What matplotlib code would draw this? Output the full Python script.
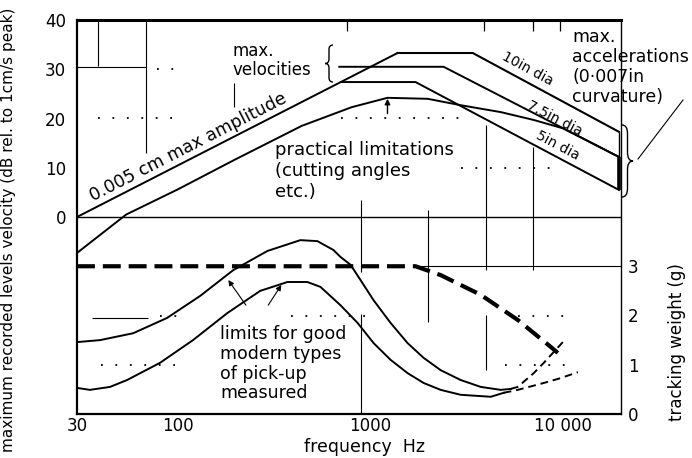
import matplotlib.pyplot as plt
from matplotlib.path import Path
from matplotlib.patches import PathPatch

plt.rcParams['font.family'] = ['DejaVu Sans']

# ---- values ----
# upper half: velocity level in dB (rel. 1 cm/s peak) against frequency in Hz
amp_f = [30, 1384]
amp_db = [0.0, 33.3]

v10_f = [1384, 3400, 19500]
v10_db = [33.3, 33.3, 17.3]
v75_f = [690, 2400, 19500]
v75_db = [30.5, 30.5, 12.2]
v5_f = [703, 1716, 19500]
v5_db = [27.4, 27.4, 5.5]

practical_f = [30, 54, 100, 197, 440, 800, 1227, 1983, 2943, 4750, 7050, 10000, 19500]
practical_db = [-7.3, 0.5, 5.6, 11.6, 18.5, 22.3, 24.2, 24.0, 22.7, 21.3, 19.7, 18.0, 12.2]

# lower half: tracking weight in g
track_f = [30, 1716, 2317, 3740, 5820, 8650, 9400]
track_g = [3.0, 3.0, 2.82, 2.42, 1.91, 1.36, 1.24]

pickup_hi_f = [30, 39.5, 58.7, 88, 131, 194, 292, 433, 531, 643, 699, 789, 889,
               1039, 1273, 1560, 1890, 2317, 2943, 3740, 4750, 5360]
pickup_hi_g = [1.46, 1.50, 1.64, 1.95, 2.40, 2.92, 3.31, 3.53, 3.51, 3.33, 3.19, 3.03, 2.72,
               2.31, 1.85, 1.44, 1.14, 0.89, 0.69, 0.55, 0.49, 0.51]
pickup_hi_ext_f = [5360, 5820, 7050, 7950, 8860, 9980]
pickup_hi_ext_g = [0.51, 0.55, 0.83, 1.04, 1.24, 1.46]

pickup_lo_f = [30, 35, 44.5, 54.6, 81, 120, 181, 268, 371, 471, 551, 699, 858,
               1039, 1273, 1560, 1890, 2317, 2943, 4220, 4920]
pickup_lo_g = [0.53, 0.49, 0.55, 0.69, 1.04, 1.50, 2.05, 2.50, 2.68, 2.68, 2.58, 2.21, 1.85,
               1.44, 1.10, 0.83, 0.63, 0.49, 0.39, 0.35, 0.43]
pickup_lo_ext_f = [4920, 5820, 7950, 9750, 11940]
pickup_lo_ext_g = [0.43, 0.49, 0.63, 0.73, 0.85]

x_ticks = [30, 100, 1000, 10000]
x_labels = ['30', '100', '1000', '10 000']
db_ticks = [0, 10, 20, 30, 40]
g_ticks = [0, 1, 2, 3]


def brace(ax, x, y0, y1, w, lw=1.0):
    # curly brace in axes fraction, tip points to x + w
    ym = (y0 + y1) / 2
    q = abs(y1 - y0) * 0.12
    xm = x + w / 2
    verts = [(x, y1), (xm, y1), (xm, y1 - q),
             (xm, ym + q), (xm, ym), (x + w, ym),
             (xm, ym), (xm, ym - q),
             (xm, y0 + q), (xm, y0), (x, y0)]
    codes = [Path.MOVETO, Path.CURVE3, Path.CURVE3,
             Path.LINETO, Path.CURVE3, Path.CURVE3,
             Path.CURVE3, Path.CURVE3,
             Path.LINETO, Path.CURVE3, Path.CURVE3]
    ax.add_patch(PathPatch(Path(verts, codes), transform=ax.transAxes,
                           fill=False, lw=lw, color='k', clip_on=False))


fig = plt.figure(figsize=(6.92, 4.58), dpi=100)
fig.set_facecolor('white')
ax = fig.add_axes([77 / 692, 44 / 458, 544 / 692, 394 / 458])
ax.set_xscale('log')
ax.set_xlim(30, 20000)
ax.set_ylim(-40, 40)
ax.minorticks_off()

ax.set_xticks(x_ticks)
ax.set_xticklabels(x_labels)
ax.set_yticks(db_ticks)
ax.tick_params(axis='both', length=0, labelsize=12)
ax.tick_params(axis='x', pad=2)
ax.tick_params(axis='y', pad=8)

ax.spines['top'].set_linewidth(2.2)
ax.spines['left'].set_linewidth(1.6)
ax.spines['bottom'].set_linewidth(1.6)
ax.spines['right'].set_linewidth(1.0)

ax2 = ax.twinx()
ax2.set_ylim(0, 8)
ax2.set_yticks(g_ticks)
ax2.tick_params(axis='y', length=0, labelsize=12, pad=5)
for s in ax2.spines.values():
    s.set_visible(False)

# 0 dB divider
ax.axhline(0, color='k', lw=1.0)

# grid remnants of the original drawing
ax.vlines(38.5, 30.7, 40, color='k', lw=0.8)
ax.vlines(68.6, 13, 40, color='k', lw=0.8)
ax.hlines(30.5, 30, 68.6, color='k', lw=0.8)
ax.vlines(196, 22.3, 27.2, color='k', lw=0.8)
ax.vlines(889, -11.2, 3.5, color='k', lw=0.8)
ax.vlines(889, -40, -19.7, color='k', lw=0.8)
ax.vlines(2000, -21.3, 1.4, color='k', lw=0.8)
ax.vlines(4000, -10.8, 18.7, color='k', lw=0.8)
ax.vlines(4000, -31.1, -19.9, color='k', lw=0.8)
ax.vlines(7000, -10.8, 14.2, color='k', lw=0.8)
ax.hlines(-10, 1820, 20000, color='k', lw=0.8)
ax.hlines(-20.5, 36, 70, color='k', lw=0.8)
ax.vlines([760, 3900, 7000, 9700], 37.8, 40, color='k', lw=0.9)

dots = (0, (1, 7))
ax.hlines(30, 78, 97, color='k', lw=1.3, linestyles=[dots])
ax.hlines(20, 38.5, 97, color='k', lw=1.3, linestyles=[dots])
ax.hlines(20, 700, 3000, color='k', lw=1.3, linestyles=[dots])
ax.hlines(10, 2943, 9000, color='k', lw=1.3, linestyles=[dots])
ax.hlines(-20, 81, 99, color='k', lw=1.3, linestyles=[dots])
ax.hlines(-20, 385, 966, color='k', lw=1.3, linestyles=[dots])
ax.hlines(-20, 5820, 10200, color='k', lw=1.3, linestyles=[dots])
ax.hlines(-30, 40, 99, color='k', lw=1.3, linestyles=[dots])
ax.hlines(-30, 5000, 10200, color='k', lw=1.3, linestyles=[dots])

# upper half curves
ax.plot(amp_f, amp_db, color='k', lw=1.4)
ax.plot(v10_f, v10_db, color='k', lw=1.5)
ax.plot(v75_f, v75_db, color='k', lw=1.4)
ax.plot(v5_f, v5_db, color='k', lw=1.4)
ax.plot(practical_f, practical_db, color='k', lw=1.4)
ax.vlines(19500, v5_db[-1], v10_db[-1], color='k', lw=1.0)
ax.vlines(19500, v5_db[-1], v75_db[-1], color='k', lw=2.6)

# lower half curves
ax2.plot(track_f, track_g, color='k', lw=3, dashes=(4.3, 1.9))
ax2.plot(pickup_hi_f, pickup_hi_g, color='k', lw=1.4)
ax2.plot(pickup_lo_f, pickup_lo_g, color='k', lw=1.4)
ax2.plot(pickup_hi_ext_f, pickup_hi_ext_g, color='k', lw=1.4, dashes=(4, 2.5))
ax2.plot(pickup_lo_ext_f, pickup_lo_ext_g, color='k', lw=1.4, dashes=(4, 2.5))

# annotations
ax.text(113, 14.2, '0.005 cm max amplitude', rotation=27.1, rotation_mode='anchor',
        ha='center', va='center', fontsize=12.5)
ax.text(192, 31.8, 'max.\nvelocities', ha='left', va='center', fontsize=12, linespacing=1.05)
brace(ax, (333 - 77) / 544, (414 - 82) / 394, (414 - 45) / 394, -8 / 544)
ax.text(321, 15.4, 'practical limitations\n(cutting angles\netc.)', ha='left', va='top',
        fontsize=13, linespacing=1.2)
ax.annotate('', xy=(1227, 24.0), xytext=(1227, 21.0),
            arrowprops=dict(arrowstyle='-|>', lw=1.0, color='k', mutation_scale=8,
                            shrinkA=0, shrinkB=0))

ax.text(6560, 30.0, '10in dia', rotation=-28.4, rotation_mode='anchor',
        ha='center', va='center', fontsize=10)
ax.text(9070, 20.1, '7.5in dia', rotation=-27.5, rotation_mode='anchor',
        ha='center', va='center', fontsize=10)
ax.text(9400, 14.6, '5in dia', rotation=-28, rotation_mode='anchor',
        ha='center', va='center', fontsize=10)

ax.text((572 - 77) / 544, (414 - 28) / 394, 'max.\naccelerations\n(0·007in\ncurvature)',
        transform=ax.transAxes, ha='left', va='top', fontsize=12.5, linespacing=1.15)
brace(ax, (622 - 77) / 544, (414 - 197) / 394, (414 - 125) / 394, 11 / 544)
ax.plot([(638 - 77) / 544, (683 - 77) / 544], [(414 - 159) / 394, (414 - 100) / 394],
        transform=ax.transAxes, color='k', lw=0.8, clip_on=False)

ax2.text(166, 1.80, 'limits for good\nmodern types\nof pick-up\nmeasured', ha='left', va='top',
         fontsize=12.5, linespacing=1.12)
ax2.annotate('', xy=(183, 2.72), xytext=(226, 2.21),
             arrowprops=dict(arrowstyle='-|>', lw=0.8, color='k', mutation_scale=8,
                             shrinkA=0, shrinkB=0))
ax2.annotate('', xy=(345, 2.62), xytext=(295, 2.21),
             arrowprops=dict(arrowstyle='-|>', lw=0.8, color='k', mutation_scale=8,
                             shrinkA=0, shrinkB=0))

ax.text(0.529, -0.085, 'frequency  Hz', transform=ax.transAxes, ha='center', va='center',
        fontsize=12.5)
fig.text(9 / 692, 1 - 230 / 458, 'maximum recorded levels velocity (dB rel. to 1cm/s peak)',
         rotation=90, ha='center', va='center', fontsize=11)
fig.text(677 / 692, 1 - 342 / 458, 'tracking weight (g)', rotation=90,
         ha='center', va='center', fontsize=12)

fig.savefig('out.png', dpi=100, facecolor='white')
